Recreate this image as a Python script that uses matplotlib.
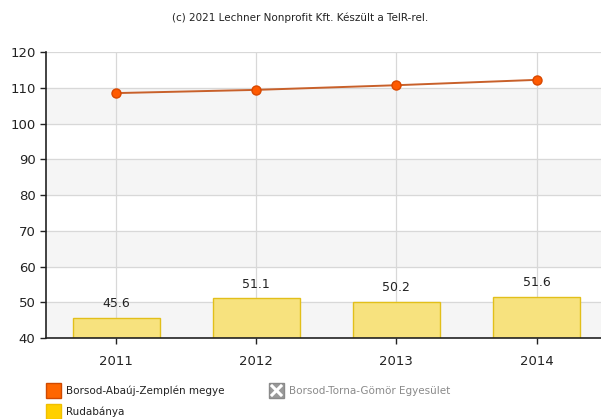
import matplotlib.pyplot as plt
from matplotlib.patches import Rectangle
from matplotlib.lines import Line2D

years = ['2011', '2012', '2013', '2014']
megye = [108.5, 109.4, 110.7, 112.2]
rudabanya = [45.6, 51.1, 50.2, 51.6]
yticks = [40, 50, 60, 70, 80, 90, 100, 110, 120]

fig = plt.figure(figsize=(6.01, 4.19), dpi=100)
ax = fig.add_axes([0.0765, 0.193, 0.9235, 0.683])

x = range(len(years))

# alternating bands
for lo in range(40, 120, 20):
    ax.axhspan(lo, lo + 10, color='#f5f5f5', zorder=0)
for y in yticks:
    ax.axhline(y, color='#d8d8d8', lw=0.9, zorder=1)
for xi in x:
    ax.axvline(xi, color='#d8d8d8', lw=0.9, zorder=1)

bars = ax.bar(x, [v - 40 for v in rudabanya], bottom=40, width=0.62,
              color='#f7e27e', edgecolor='#e2bf1a', lw=1, zorder=2)
for xi, v in zip(x, rudabanya):
    ax.text(xi, v + 2.2, f'{v:.1f}', ha='center', va='bottom', fontsize=9,
            color='#222222', zorder=4)

ax.plot(x, megye, color='#c8602a', lw=1.4, zorder=3)
ax.plot(x, megye, 'o', ms=6.5, mfc='#ff5a00', mec='#d94800', mew=1, zorder=4)

ax.set_xlim(-0.5, 3.46)
ax.set_ylim(40, 120)
ax.set_yticks(yticks)
ax.set_xticks(list(x))
ax.set_xticklabels(years)
ax.tick_params(axis='both', labelsize=9.5, colors='#222222', length=4, width=1)
ax.tick_params(axis='x', pad=8)
for s in ['top', 'right']:
    ax.spines[s].set_visible(False)
for s in ['left', 'bottom']:
    ax.spines[s].set_color('#222222')
    ax.spines[s].set_linewidth(1.2)

fig.text(0.5, 0.957, '(c) 2021 Lechner Nonprofit Kft. Készült a TeIR-rel.',
         ha='center', va='center', fontsize=7.5, color='#222222')

# legend
w, h = 15 / 601, 15 / 419
fig.patches.append(Rectangle((46 / 601, 1 - 398 / 419), w, h, transform=fig.transFigure,
                             facecolor='#ff6600', edgecolor='#d04a00', lw=1))
fig.text(66 / 601, 1 - 391 / 419, 'Borsod-Abaúj-Zemplén megye', fontsize=7.5,
         va='center', color='#222222')
fig.patches.append(Rectangle((46 / 601, 1 - 419 / 419), w, h, transform=fig.transFigure,
                             facecolor='#ffd000', edgecolor='#f0c000', lw=1))
fig.text(66 / 601, 1 - 412 / 419, 'Rudabánya', fontsize=7.5, va='center', color='#222222')
fig.patches.append(Rectangle((269 / 601, 1 - 398 / 419), w, h, transform=fig.transFigure,
                             facecolor='#9a9a9a', edgecolor='#8a8a8a', lw=1))
fig.lines.append(Line2D([272 / 601, 281 / 601], [1 - 395 / 419, 1 - 386 / 419],
                        transform=fig.transFigure, color='white', lw=2.2))
fig.lines.append(Line2D([272 / 601, 281 / 601], [1 - 386 / 419, 1 - 395 / 419],
                        transform=fig.transFigure, color='white', lw=2.2))
fig.text(289 / 601, 1 - 391 / 419, 'Borsod-Torna-Gömör Egyesület', fontsize=7.5,
         va='center', color='#8a8a8a')

fig.savefig('out.png', dpi=100)
